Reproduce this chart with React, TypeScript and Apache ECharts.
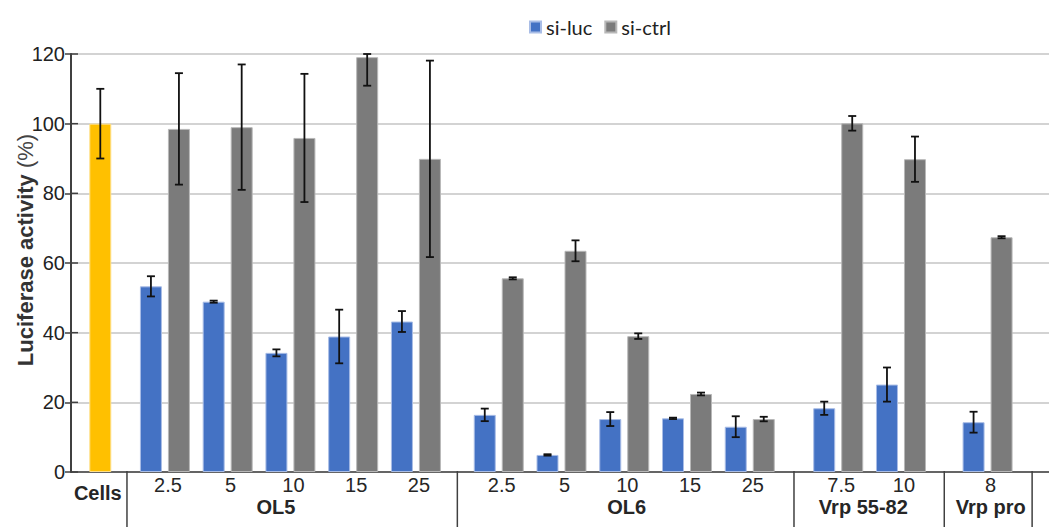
import React, { useEffect, useRef } from "react";
import * as echarts from "echarts";

// ---- data ----
const doseLabels = ["2.5", "5", "10", "15", "25", "2.5", "5", "10", "15", "25", "7.5", "10", "8"];
const groupLabels = ["Cells", "OL5", "OL6", "Vrp 55-82", "Vrp pro"];
const groupSizes = [5, 5, 2, 1];
// slot positions along the x value axis (one unit = one dose slot)
const cellsAt = 1;
const groupStarts = [2.03, 7.35, 12.76, 15.14];
const groupLabelAt = [0.96, 3.8, 9.39, 13.16, 15.19];
const separatorsAt = [1.425, 6.69, 12.055, 14.45, 15.85];

const cellsValue = 100;
const cellsErr = 10;
const siLuc = [53.3, 48.9, 34.2, 38.9, 43.2, 16.4, 4.9, 15.2, 15.4, 13.0, 18.3, 25.1, 14.3];
const siLucErr = [2.9, 0.3, 1.0, 7.7, 3.0, 1.8, 0.2, 2.0, 0.2, 3.0, 1.9, 4.9, 3.0];
const siCtrl = [98.5, 99.0, 95.9, 119.1, 89.9, 55.6, 63.5, 39.0, 22.4, 15.2, 100.1, 89.8, 67.4];
const siCtrlErr = [16.0, 18.0, 18.4, 8.2, 28.2, 0.3, 3.0, 0.8, 0.4, 0.65, 2.1, 6.5, 0.3];

const yTicks = [0, 20, 40, 60, 80, 100, 120];

// ---- layout / style ----
const X_MIN = 0.533;
const X_MAX = 16.119;
const Y_MAX = 120;
const BAR_W = 22;
const BAR_GAP = 6;
const HALF = (BAR_W + BAR_GAP) / 2;
const FONT = "Liberation Sans";
const BLUE = "#4472C4";
const GRAY = "#7B7B7B";
const YELLOW = "#FFC000";
const AXIS = "#404040";

const positions: number[] = [];
groupSizes.forEach((n, g) => {
  for (let i = 0; i < n; i++) positions.push(groupStarts[g] + i);
});

export default function App() {
  const ref = useRef<HTMLDivElement>(null);
  useEffect(() => {
    if (!ref.current) return;
    const chart = echarts.init(ref.current, null, { renderer: "svg" });

    const errData: number[][] = [[cellsAt, cellsValue - cellsErr, cellsValue + cellsErr, 0]];
    positions.forEach((x, i) => {
      errData.push([x, siLuc[i] - siLucErr[i], siLuc[i] + siLucErr[i], -1]);
      errData.push([x, siCtrl[i] - siCtrlErr[i], siCtrl[i] + siCtrlErr[i], 1]);
    });

    const option: any = {
      animation: false,
      backgroundColor: "#ffffff",
      legend: {
        data: ["si-luc", "si-ctrl"],
        left: 524,
        top: 12,
        icon: "rect",
        itemWidth: 11,
        itemHeight: 11,
        itemGap: 12,
        textStyle: { fontFamily: "Lato", fontSize: 20, color: "#222" },
      },
      grid: { left: 71, right: 0, top: 54, bottom: 55, containLabel: false, outerBoundsMode: "none" },
      xAxis: [
        {
          type: "value",
          min: X_MIN,
          max: X_MAX,
          axisLine: { show: true, onZero: false, lineStyle: { color: AXIS, width: 1.5 } },
          axisTick: { show: false },
          axisLabel: { show: false },
          splitLine: { show: false },
        },
        {
          type: "value",
          min: X_MIN,
          max: X_MAX,
          show: false,
          axisLine: { show: false, onZero: false },
          splitLine: { show: false },
        },
      ],
      yAxis: {
        type: "value",
        min: 0,
        max: Y_MAX,
        interval: 20,
        name: "{b|Luciferase activity}{n| (%)}",
        nameLocation: "middle",
        nameGap: 35,
        nameRotate: 90,
        nameMoveOverlap: false,
        nameTextStyle: {
          padding: [0, 0, 0, 26],
          rich: {
            b: { fontFamily: FONT, fontSize: 22, fontWeight: "bold", color: "#333" },
            n: { fontFamily: FONT, fontSize: 22, color: "#444" },
          },
        },
        axisLine: { show: true, onZero: false, lineStyle: { color: AXIS, width: 2 } },
        axisTick: { show: true, length: 6, lineStyle: { color: AXIS, width: 1.5 } },
        axisLabel: {
          fontFamily: FONT,
          fontSize: 20,
          color: "#222",
          margin: 6,
          formatter: (v: number) => (yTicks.includes(v) ? String(v) : ""),
        },
        splitLine: { show: true, lineStyle: { color: "#C4C4C4", width: 1.5 } },
      },
      series: [
        {
          name: "Cells",
          type: "bar",
          xAxisIndex: 1,
          barWidth: BAR_W,
          data: [[cellsAt, cellsValue]],
          itemStyle: { color: YELLOW, borderColor: "#FFE08A", borderWidth: 1 },
          silent: true,
        },
        {
          name: "si-luc",
          type: "bar",
          barWidth: BAR_W,
          barGap: `${(BAR_GAP / BAR_W) * 100}%`,
          data: positions.map((x, i) => [x, siLuc[i]]),
          itemStyle: { color: BLUE, borderColor: "#A9BDE6", borderWidth: 1 },
          silent: true,
        },
        {
          name: "si-ctrl",
          type: "bar",
          barWidth: BAR_W,
          barGap: `${(BAR_GAP / BAR_W) * 100}%`,
          data: positions.map((x, i) => [x, siCtrl[i]]),
          itemStyle: { color: GRAY, borderColor: "#B8B8B8", borderWidth: 1 },
          silent: true,
        },
        {
          name: "errors",
          type: "custom",
          silent: true,
          z: 10,
          data: errData,
          encode: { x: 0, y: [1, 2] },
          renderItem: (params: any, api: any) => {
            const x0 = api.value(0);
            const lo = api.value(1);
            const hi = Math.min(api.value(2), Y_MAX);
            const side = api.value(3);
            const top = api.coord([x0, hi]);
            const bot = api.coord([x0, lo]);
            const x = top[0] + side * HALF;
            const s = { stroke: "#111", lineWidth: 1.8 };
            return {
              type: "group",
              children: [
                { type: "line", shape: { x1: x, y1: top[1], x2: x, y2: bot[1] }, style: s },
                { type: "line", shape: { x1: x - 4, y1: top[1], x2: x + 4, y2: top[1] }, style: s },
                { type: "line", shape: { x1: x - 4, y1: bot[1], x2: x + 4, y2: bot[1] }, style: s },
              ],
            };
          },
        },
        {
          name: "yAxisLine",
          type: "custom",
          silent: true,
          clip: false,
          z: 11,
          data: [[cellsAt, 0]],
          encode: { x: 0 },
          renderItem: (params: any, api: any) => {
            const bot = api.coord([X_MIN, 0]);
            const top = api.coord([X_MIN, Y_MAX]);
            const children: any[] = [
              {
                type: "line",
                shape: { x1: bot[0], y1: bot[1], x2: top[0], y2: top[1] },
                style: { stroke: AXIS, lineWidth: 2 },
              },
            ];
            yTicks.forEach((t) => {
              const p = api.coord([X_MIN, t]);
              children.push({
                type: "line",
                shape: { x1: p[0], y1: p[1], x2: p[0] + 7, y2: p[1] },
                style: { stroke: AXIS, lineWidth: 1.5 },
              });
            });
            return { type: "group", children };
          },
        },
        {
          name: "doseLabels",
          type: "custom",
          silent: true,
          clip: false,
          data: positions.map((x, i) => [x, i]),
          encode: { x: 0 },
          renderItem: (params: any, api: any) => {
            const pt = api.coord([api.value(0), 0]);
            return {
              type: "text",
              x: pt[0] + 3,
              y: pt[1] + 13,
              style: {
                text: doseLabels[api.value(1)],
                fontFamily: FONT,
                fontSize: 20,
                fill: "#262626",
                align: "center",
                verticalAlign: "middle",
              },
            };
          },
        },
        {
          name: "groupLabels",
          type: "custom",
          silent: true,
          clip: false,
          data: groupLabelAt.map((x, i) => [x, i]),
          encode: { x: 0 },
          renderItem: (params: any, api: any) => {
            const gi = api.value(1);
            const pt = api.coord([api.value(0), 0]);
            return {
              type: "text",
              x: pt[0],
              y: pt[1] + (gi === 0 ? 21 : 35),
              style: {
                text: groupLabels[gi],
                fontFamily: FONT,
                fontSize: 20,
                fontWeight: "bold",
                fill: "#262626",
                align: "center",
                verticalAlign: "middle",
              },
            };
          },
        },
        {
          name: "separators",
          type: "custom",
          silent: true,
          clip: false,
          data: separatorsAt.map((x) => [x, 0]),
          encode: { x: 0 },
          renderItem: (params: any, api: any) => {
            const pt = api.coord([api.value(0), 0]);
            return {
              type: "line",
              shape: { x1: pt[0], y1: pt[1] - 1, x2: pt[0], y2: api.getHeight() },
              style: { stroke: AXIS, lineWidth: 1.5 },
            };
          },
        },
      ],
    };
    chart.setOption(option);
    return () => chart.dispose();
  }, []);

  return (
    <div
      ref={ref}
      style={{ position: "absolute", left: 0, top: 0, width: 1049, height: 527, background: "#fff" }}
    />
  );
}
